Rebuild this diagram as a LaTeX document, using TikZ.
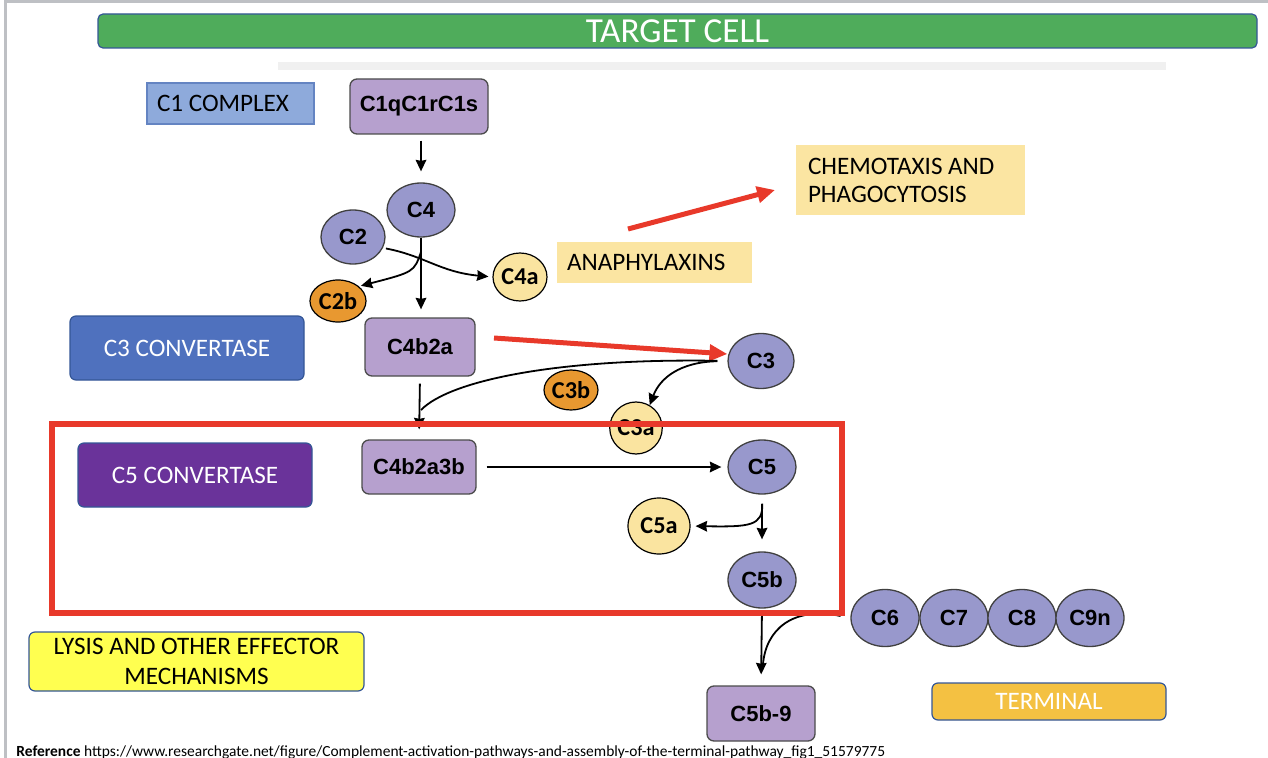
\documentclass[tikz,border=0pt]{standalone}
\usepackage{fontspec}
\setmainfont{Carlito}
\newfontfamily\arialfont{Liberation Sans}
\usetikzlibrary{shapes.geometric,arrows.meta}

\newlength{\du}
\setlength{\du}{0.569pt}

\definecolor{framegray}{RGB}{190,192,196}
\definecolor{cellgreen}{RGB}{79,172,91}
\definecolor{boxedge}{RGB}{52,86,150}
\definecolor{cfirstblue}{RGB}{142,170,219}
\definecolor{cfirstedge}{RGB}{100,132,194}
\definecolor{cplxfill}{RGB}{182,160,206}
\definecolor{protfill}{RGB}{152,152,204}
\definecolor{fragorange}{RGB}{232,152,48}
\definecolor{fragyellow}{RGB}{250,228,160}
\definecolor{notefill}{RGB}{251,229,162}
\definecolor{cthreeblue}{RGB}{79,113,190}
\definecolor{cfivepurple}{RGB}{106,51,154}
\definecolor{lysisyellow}{RGB}{255,255,80}
\definecolor{termorange}{RGB}{244,193,66}
\definecolor{alertred}{RGB}{232,57,42}

\tikzset{
  tagbox/.style={draw=boxedge, line width=1.2\du, rounded corners=6\du, inner sep=0pt,
    align=center, font=\fontsize{14.3}{17}\selectfont},
  notebox/.style={fill=notefill, inner sep=0pt, align=left, font=\fontsize{14.3}{16}\selectfont,
    execute at begin node={\spaceskip=0pt\xspaceskip=0pt\relax}},
  cplx/.style={draw=black!70, fill=cplxfill, line width=1.3\du, rounded corners=7\du,
    inner sep=0pt, font=\arialfont\bfseries\fontsize{12.5}{14}\selectfont},
  prot/.style={ellipse, draw=black!75, fill=protfill, line width=1.3\du, inner sep=0pt,
    font=\arialfont\bfseries\fontsize{12.5}{14}\selectfont},
  frag/.style={ellipse, draw=black, line width=1.2\du, inner sep=0pt,
    font=\bfseries\fontsize{13.8}{15}\selectfont},
  flow/.style={-{Stealth[length=6.5pt,width=6pt,inset=0.5pt]}, line width=1.8\du},
  hotflow/.style={-{Stealth[length=10.2pt,width=9.1pt,inset=0pt]}, alertred, line width=5\du}
}

\begin{document}
\begin{tikzpicture}
\pgftransformxscale{1.000000}
\pgftransformyscale{-1.000000}
\useasboundingbox (0\du,0\du) rectangle (1268\du,758\du);
% slide frame and header
\draw[framegray, line width=3\du] (5\du,758\du)--(5\du,1.5\du)--(1268\du,1.5\du);
\fill[black!6] (278\du,62\du) rectangle (1166\du,70\du);
\node[tagbox, fill=cellgreen, text=white, rounded corners=5\du, minimum width=1159\du,
  minimum height=34\du, font=\fontsize{20}{22}\selectfont] (target) at (677.5\du,31\du) {TARGET CELL};
% side labels
\node[notebox, draw=cfirstedge, fill=cfirstblue, line width=1.2\du, minimum width=167\du,
  minimum height=41\du, text width=147\du] (c1lbl) at (230.5\du,103.5\du) {C1 COMPLEX};
\node[tagbox, fill=cthreeblue, text=white, minimum width=234\du, minimum height=64\du] (c3conv) at (187\du,348\du) {C3 CONVERTASE};
\node[tagbox, fill=cfivepurple, text=white, minimum width=234\du, minimum height=64\du] (c5conv) at (195\du,475\du) {C5 CONVERTASE};
\node[tagbox, fill=lysisyellow, minimum width=335\du, minimum height=59\du] (lysis) at (196.5\du,661.5\du) {LYSIS AND OTHER EFFECTOR\\MECHANISMS};
\node[tagbox, fill=termorange, text=white, minimum width=234\du, minimum height=37\du] (terminal) at (1049\du,701.5\du) {TERMINAL};
\node[notebox, minimum width=195\du, minimum height=41\du, text width=175\du] (anaph) at (654.5\du,262.5\du) {ANAPHYLAXINS};
\node[notebox, minimum width=229\du, minimum height=70\du, text width=205\du] (chemo) at (910.5\du,180\du) {CHEMOTAXIS AND\\PHAGOCYTOSIS};
% classical pathway
\node[cplx, minimum width=138\du, minimum height=55\du] (c1q) at (419\du,106.5\du) {C1qC1rC1s};
\node[prot, minimum width=68\du, minimum height=54\du] (c4) at (421\du,210\du) {C4};
\node[prot, minimum width=64\du, minimum height=54\du] (c2) at (353\du,237\du) {C2};
\node[frag, fill=fragorange, minimum width=56\du, minimum height=42\du] (c2b) at (338\du,301\du) {C2b};
\node[frag, fill=fragyellow, minimum width=54\du, minimum height=48\du] (c4a) at (520\du,277\du) {C4a};
\node[cplx, minimum width=110\du, minimum height=58\du] (c4b2a) at (420\du,347\du) {C4b2a};
\node[prot, minimum width=66\du, minimum height=55\du] (c3) at (761\du,361\du) {C3};
\node[frag, fill=fragorange, minimum width=50\du, minimum height=40\du] (c3b) at (571\du,390\du) {C3b};
\node[frag, fill=fragyellow, minimum width=48\du, minimum height=52\du] (c3a) at (636\du,428\du) {C3a};
\node[cplx, minimum width=114\du, minimum height=54\du] (c4b2a3b) at (419\du,467\du) {C4b2a3b};
\node[prot, minimum width=68\du, minimum height=54\du] (c5) at (762\du,467\du) {C5};
\node[frag, fill=fragyellow, minimum width=62\du, minimum height=56\du] (c5a) at (659\du,526\du) {C5a};
\node[prot, minimum width=68\du, minimum height=56\du] (c5b) at (762\du,580\du) {C5b};
\node[prot, minimum width=68\du, minimum height=57\du] (c6) at (885\du,618\du) {C6};
\node[prot, minimum width=68\du, minimum height=57\du] (c7) at (954\du,618\du) {C7};
\node[prot, minimum width=68\du, minimum height=57\du] (c8) at (1022\du,618\du) {C8};
\node[prot, minimum width=68\du, minimum height=57\du] (c9n) at (1090\du,618\du) {C9n};
\node[cplx, minimum width=108\du, minimum height=55\du] (c5b9) at (761\du,713.5\du) {C5b-9};
% free ends
\coordinate (split) at (421\du,252\du);
\coordinate (join) at (421\du,410\du);
\coordinate (antail) at (628\du,229\du);
\coordinate (anhead) at (775\du,190\du);
\coordinate (c3tail) at (494\du,338\du);
\coordinate (merge) at (763\du,664\du);
% connectors
\draw[flow, shorten <=6\du, shorten >=11\du] (c1q.south -| c4) -- (c4.north);
\draw[line width=1.8\du] (c4.south) -- (split);
\draw[flow, shorten >=8\du] (split) -- (split |- c4b2a.north);
\draw[flow, shorten <=3\du, shorten >=4\du] (c2.-20) .. controls (425\du,256\du) and (440\du,272\du) .. (c4a.west);
\draw[flow, shorten >=2\du] (split) .. controls (414\du,272\du) .. (c2b.35);
\draw[hotflow] (antail) -- (anhead);
\draw[hotflow, shorten >=1\du] (c3tail) -- (c3.168);
\draw[line width=1.8\du, shorten <=10\du] (c3.west) .. controls (560\du,358\du) and (450\du,380\du) .. (join);
\draw[flow, shorten <=7\du, shorten >=10\du] (c4b2a.south) -- (c4b2a3b.north);
\draw[flow, shorten <=10\du] (c3.west) .. controls (680\du,362\du) and (660\du,378\du) .. (c3a.59);
\draw[flow, shorten <=10\du, shorten >=6\du] (c4b2a3b.east) -- (c5.west);
\draw[flow, shorten <=9\du, shorten >=12\du] (c5.south) -- (c5b.north);
\draw[flow, shorten <=9\du, shorten >=5\du] (c5.south) .. controls (763\du,526\du) and (750\du,527\du) .. (c5a.east);
\draw[flow, shorten <=7\du, shorten >=11\du] (c5b.south) -- (c5b9.north);
\draw[line width=1.8\du, shorten <=10\du] (c6.west) .. controls (792\du,606\du) and (766\du,630\du) .. (merge);
% highlight
\draw[alertred, line width=6\du] (52\du,424\du) rectangle (842\du,613\du);
\node[anchor=base west, inner sep=0pt, font=\fontsize{8.8}{10}\selectfont] (refnote) at (16\du,756\du)
  {\textbf{Reference} https://www.researchgate.net/figure/Complement-activation-pathways-and-assembly-of-the-terminal-pathway\_fig1\_51579775};
\end{tikzpicture}
\end{document}
